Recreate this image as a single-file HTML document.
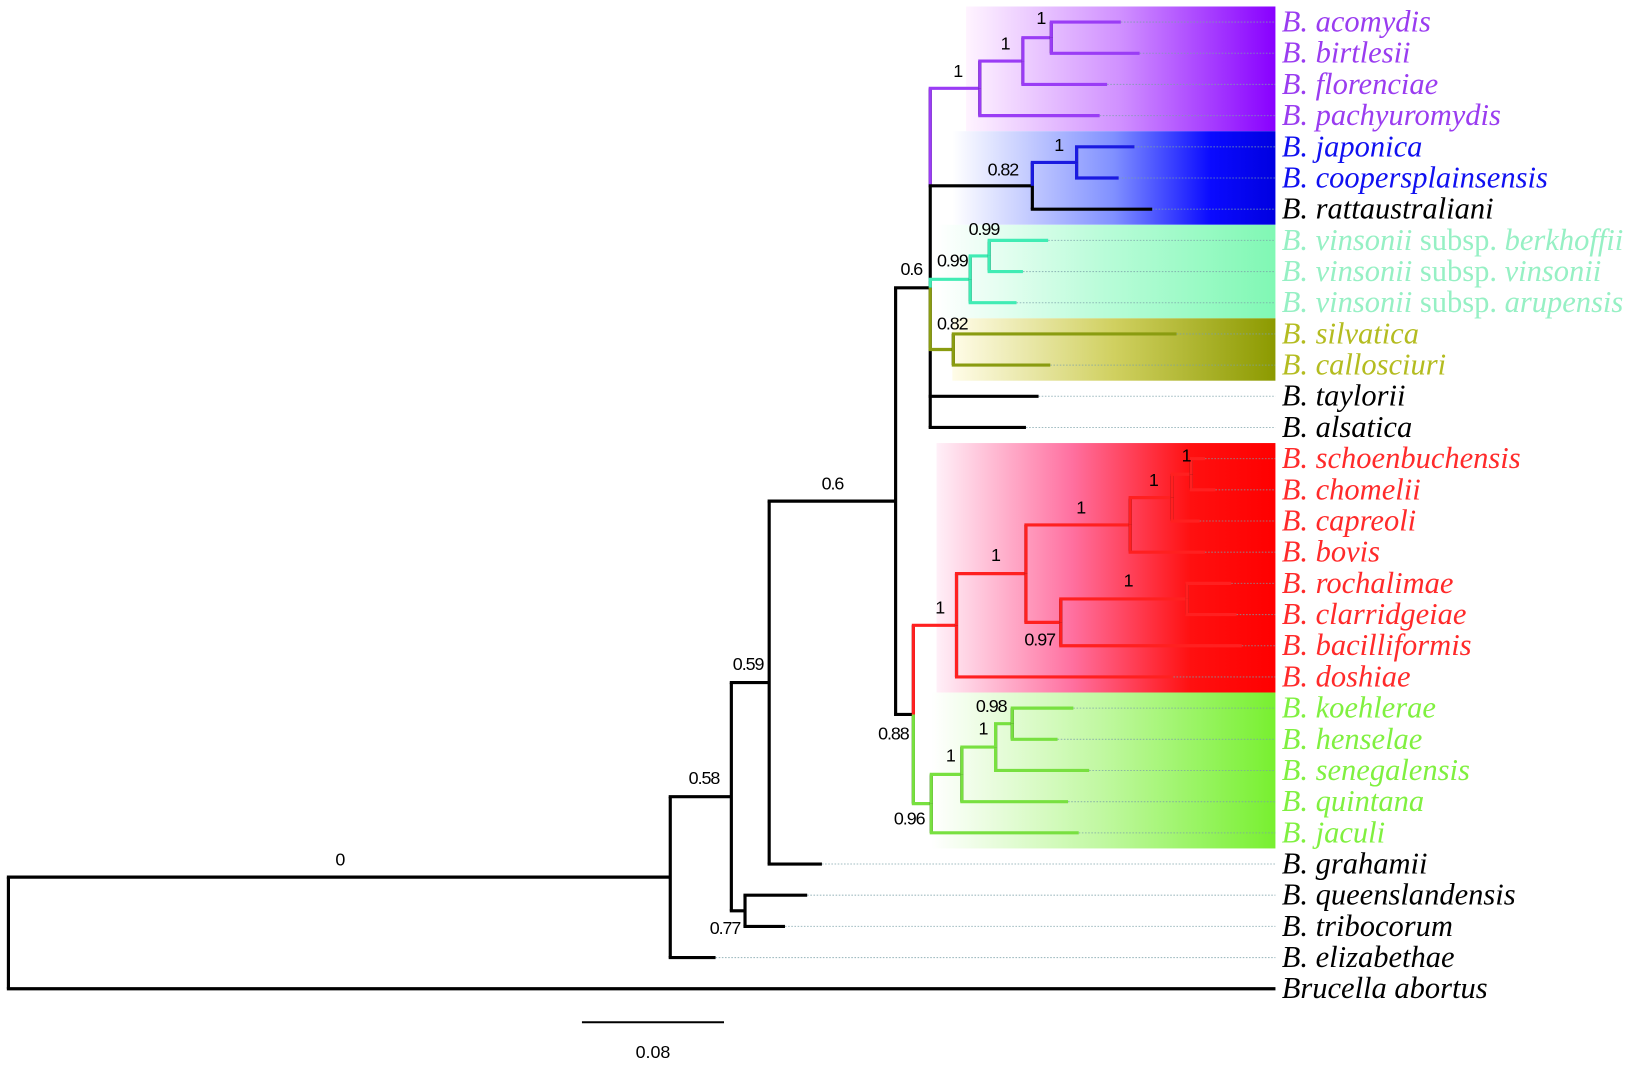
<!DOCTYPE html>
<html><head><meta charset="utf-8"><style>
html,body{margin:0;padding:0;background:#fff;}
svg{display:block;}
.lbl{font-family:"Liberation Serif",serif;font-style:italic;font-size:29px;}
.sup{font-family:"Liberation Sans",sans-serif;font-size:17px;letter-spacing:-1px;}
</style></head><body>
<svg id="tree" width="1649" height="1078" viewBox="0 0 1567 1025" preserveAspectRatio="none" xmlns="http://www.w3.org/2000/svg">
<defs>
<linearGradient id="gPurple" x1="0" x2="1" y1="0" y2="0"><stop offset="0" stop-color="#fff4ff"/><stop offset="0.5" stop-color="#d090ff"/><stop offset="1" stop-color="#8800ff"/></linearGradient>
<linearGradient id="gBlue" x1="0" x2="1" y1="0" y2="0"><stop offset="0" stop-color="#ffffff"/><stop offset="0.5" stop-color="#8090ff"/><stop offset="0.8" stop-color="#0a0aff"/><stop offset="1" stop-color="#0000e0"/></linearGradient>
<linearGradient id="gTurq" x1="0" x2="1" y1="0" y2="0"><stop offset="0" stop-color="#ffffff"/><stop offset="0.5" stop-color="#b8fcd8"/><stop offset="1" stop-color="#80f8b4"/></linearGradient>
<linearGradient id="gOlive" x1="0" x2="1" y1="0" y2="0"><stop offset="0" stop-color="#fffce8"/><stop offset="0.5" stop-color="#d0d060"/><stop offset="1" stop-color="#8c9a00"/></linearGradient>
<linearGradient id="gRed" x1="0" x2="1" y1="0" y2="0"><stop offset="0" stop-color="#fff0f8"/><stop offset="0.4" stop-color="#ff70a0"/><stop offset="0.75" stop-color="#ff1010"/><stop offset="1" stop-color="#ff0000"/></linearGradient>
<linearGradient id="gGreen" x1="0" x2="1" y1="0" y2="0"><stop offset="0" stop-color="#ffffff"/><stop offset="0.5" stop-color="#c0f8a0"/><stop offset="1" stop-color="#78f030"/></linearGradient>
</defs>
<g id="boxes"></g><g id="dots"></g><g id="edges"></g><g id="supports"></g><g id="labels"></g>
<g>
<line id="sbar" y1="972" y2="972" stroke="#000" stroke-width="2"/>
<text id="stext" class="sup" y="1006" text-anchor="middle" style="letter-spacing:0">0.08</text>
</g>
</svg>
<script>
// ---- data ----
const taxa = ["acomydis","birtlesii","florenciae","pachyuromydis","japonica","coopersplainsensis","rattaustraliani","vinsonii subsp. berkhoffii","vinsonii subsp. vinsonii","vinsonii subsp. arupensis","silvatica","callosciuri","taylorii","alsatica","schoenbuchensis","chomelii","capreoli","bovis","rochalimae","clarridgeiae","bacilliformis","doshiae","koehlerae","henselae","senegalensis","quintana","jaculi","grahamii","queenslandensis","tribocorum","elizabethae","Brucella abortus"];
const nodeIds    = ["root","A","B","N77","C","D","E","P1","P2","P3","Q1","Q2","V1","V2","S1","F","R1","R2","R3","R4","R5","R6","R7","G1","G2","G3","G4"];
const nodeParent = [null,"root","A","B","B","C","D","E","P1","P2","E","Q1","E","V1","E","D","F","R1","R2","R3","R4","R2","R6","F","G1","G2","G3"];
const nodeDepth  = [0,0.3727,0.4071,0.4148,0.4284,0.4996,0.5191,0.5470,0.5713,0.5873,0.5766,0.6015,0.5416,0.5523,0.5321,0.5096,0.5339,0.5730,0.6317,0.6554,0.6661,0.5926,0.6637,0.5197,0.5369,0.5559,0.5653];
const nodeSupport= ["","0","0.58","0.77","0.59","0.6","0.6","1","1","1","0.82","1","0.99","0.99","0.82","0.88","1","1","1","1","1","0.97","1","0.96","1","1","0.98"];
const nodeClade  = ["k","k","k","k","k","k","k","p","p","p","k","b","t","t","o","k","r","r","r","r","r","r","r","g","g","g","g"];
const tipParent  = ["P3","P3","P2","P1","Q2","Q2","Q1","V2","V2","V1","S1","S1","E","E","R5","R5","R4","R3","R7","R7","R6","R1","G4","G4","G3","G2","G1","C","N77","N77","A","root"];
const tipDepth   = [0.6264,0.6370,0.6187,0.6145,0.6341,0.6252,0.6441,0.5855,0.5713,0.5677,0.6578,0.5867,0.5801,0.5730,0.6738,0.6797,0.6708,0.6738,0.6886,0.6916,0.6945,0.6560,0.5997,0.5908,0.6086,0.5967,0.6027,0.4581,0.4498,0.4373,0.3982,0.7135];
const tipClade   = ["p","p","p","p","b","b","k","t","t","t","o","o","k","k","r","r","r","r","r","r","r","r","g","g","g","g","g","k","k","k","k","k"];
const scaleLen = 0.08;
// ---- style ----
const cladeLine = {k:"#000",p:"#9a3cf5",b:"#1a1ae0",t:"#40ecb4",o:"#8a9c10",r:"#ff2020",g:"#78e040"};
const cladeText = {k:"#000",p:"#9a3cf0",b:"#1010f0",t:"#96f0c4",o:"#b4bc20",r:"#ff2a2a",g:"#80f040"};
const supOff = {A:[-314,-17],B:[-26,-18],N77:[-19,16],C:[-20,-18],D:[-60,-17],E:[-18,-18],P1:[-21,-17],P2:[-17,-17],P3:[-10,-19],Q1:[-28,-16],Q2:[-17,-17],V1:[-17,-18],V2:[-5,-26],S1:[-1,-25],F:[-19,18],R1:[-16,-17],R2:[-29,-18],R3:[-47,-17],R4:[-18,-17],R5:[-5,-18],R6:[-20,16],R7:[-56,-18],G1:[-21,14],G2:[-11,-18],G3:[-12,-18],G4:[-20,-17]};
const boxes = [
 {name:"purple-clade-box",x0:918,r0:0,r1:3,fill:"url(#gPurple)"},
 {name:"blue-clade-box",x0:905,r0:4,r1:6,fill:"url(#gBlue)"},
 {name:"vinsonii-clade-box",x0:890,r0:7,r1:9,fill:"url(#gTurq)"},
 {name:"olive-clade-box",x0:905,r0:10,r1:11,fill:"url(#gOlive)"},
 {name:"red-clade-box",x0:890,r0:14,r1:21,fill:"url(#gRed)"},
 {name:"green-clade-box",x0:885,r0:22,r1:26,fill:"url(#gGreen)"}];
const X0=8, PX=1687.5, ROW0=21, ROWH=29.65, TIPX=1212, LBLX=1218;
const xs = d => X0 + d*PX;
const ys = i => ROW0 + i*ROWH;
const NS="http://www.w3.org/2000/svg";
function mk(tag, parent, attrs){const e=document.createElementNS(NS,tag);for(const k in attrs)e.setAttribute(k,attrs[k]);document.getElementById(parent).appendChild(e);return e;}
const N={};
nodeIds.forEach((id,i)=>{N[id]={id,x:xs(nodeDepth[i]),clade:nodeClade[i],sup:nodeSupport[i],parent:nodeParent[i],kids:[]};});
nodeIds.forEach(id=>{if(N[id].parent)N[N[id].parent].kids.push(N[id]);});
taxa.forEach((t,i)=>{N[tipParent[i]].kids.push({tip:true,i,x:xs(tipDepth[i]),y:ys(i),clade:tipClade[i]});});
function yOf(n){if(n.tip)return n.y;n.kids.forEach(yOf);n.y=n.kids.reduce((s,k)=>s+k.y,0)/n.kids.length;return n.y;}
yOf(N.root);
boxes.forEach(b=>{
 const r=mk("rect","boxes",{x:b.x0,y:ys(b.r0)-ROWH/2,width:TIPX-b.x0,height:(b.r1-b.r0+1)*ROWH,fill:b.fill});
 
 
});
nodeIds.forEach(id=>{
 const n=N[id];
 const ks=n.kids.map(k=>k.y).sort((a,b)=>a-b);
 const v=mk("line","edges",{x1:n.x,x2:n.x,y1:ks[0],y2:ks[ks.length-1],stroke:"#000","stroke-width":3});
 
 
 n.kids.forEach(k=>{
  const col=cladeLine[k.clade];
  if(k.clade!=="k"){
   let target=n.y;
   const others=ks.filter(y=>y!==k.y&&((k.y<n.y&&y>k.y&&y<n.y)||(k.y>n.y&&y<k.y&&y>n.y)));
   if(others.length) target = k.y<n.y?Math.min(...others):Math.max(...others);
   const s=mk("line","edges",{x1:n.x,x2:n.x,y1:k.y,y2:target,stroke:col,"stroke-width":3});
   
   
  }
  const h=mk("line","edges",{x1:n.x-1.5,x2:k.x,y1:k.y,y2:k.y,stroke:col,"stroke-width":3});
  
  
 });
 if(n.sup!==""){
  const o=supOff[id]||[-15,-15];
  const t=mk("text","supports",{x:n.x+o[0],y:n.y+o[1]+6,class:"sup","text-anchor":"middle",fill:"#000"});
  t.textContent=n.sup;
  
  
 }
});
taxa.forEach((t,i)=>{
 if(i<taxa.length-1){
  const d=mk("line","dots",{x1:xs(tipDepth[i]),x2:TIPX,y1:ys(i),y2:ys(i),stroke:"#7aa0a8","stroke-width":1,"stroke-dasharray":"1.5,1.5",opacity:0.7});
  
  
 }
 const txt=mk("text","labels",{x:LBLX,y:ys(i)+9,class:"lbl",fill:cladeText[tipClade[i]]});
 if(i===taxa.length-1){txt.textContent=t;}
 else if(t.indexOf(" subsp. ")>0){
  const p=t.split(" subsp. ");
  txt.appendChild(document.createTextNode("B. "+p[0]+" "));
  const s=document.createElementNS(NS,"tspan");s.setAttribute("font-style","normal");s.textContent="subsp. ";txt.appendChild(s);
  txt.appendChild(document.createTextNode(p[1]));
 } else txt.textContent="B. "+t;
 
 
});
const sb=document.getElementById("sbar");
sb.setAttribute("x1",553);sb.setAttribute("x2",553+scaleLen*PX);
document.getElementById("stext").setAttribute("x",553+scaleLen*PX/2);
</script>
</body></html>
